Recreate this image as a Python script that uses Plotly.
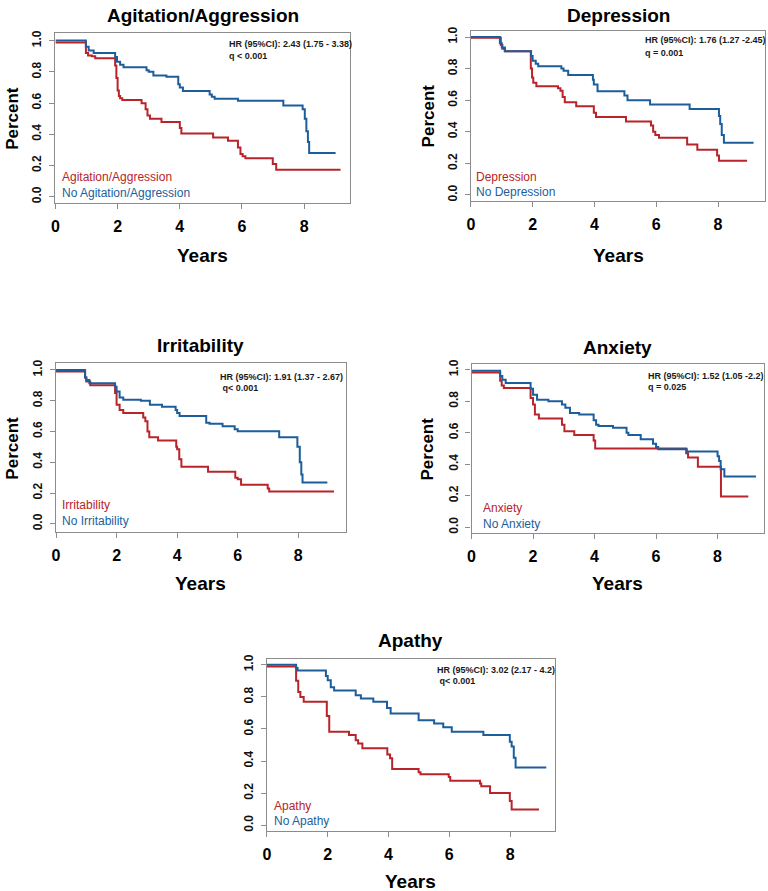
import plotly.graph_objects as go

# ---------------- data ----------------
titles = ["Agitation/Aggression", "Depression", "Irritability", "Anxiety", "Apathy"]
hr_text = ["HR (95%CI): 2.43 (1.75 - 3.38)", "HR (95%CI): 1.76 (1.27 -2.45)",
           "HR (95%CI): 1.91 (1.37 - 2.67)", "HR (95%CI): 1.52 (1.05 -2.2)",
           "HR (95%CI): 3.02 (2.17 - 4.2)"]
q_text = ["q < 0.001", "q = 0.001", " q< 0.001", "q = 0.025", " q< 0.001"]
x_ticks = [0, 2, 4, 6, 8]
y_ticks = [0.0, 0.2, 0.4, 0.6, 0.8, 1.0]
y_tick_labels = ["0.0", "0.2", "0.4", "0.6", "0.8", "1.0"]

agit_x = [0, 0.98, 1.05, 1.17, 1.28, 1.92, 1.96, 2.0, 2.04, 2.08, 2.15, 2.77, 2.9, 2.96, 3.04, 3.41, 4.0, 4.05, 5.07, 5.55, 5.87, 5.95, 6.02, 6.11, 6.99, 7.1, 9.17]
agit_y = [0.988, 0.92, 0.905, 0.90, 0.887, 0.84, 0.76, 0.68, 0.645, 0.63, 0.619, 0.598, 0.56, 0.52, 0.50, 0.478, 0.44, 0.405, 0.38, 0.358, 0.316, 0.274, 0.26, 0.246, 0.21, 0.172, 0.172]
noagit_x = [0, 0.98, 1.07, 1.23, 1.92, 1.98, 2.08, 2.19, 2.93, 3.0, 3.15, 3.57, 3.95, 4.0, 4.1, 4.96, 5.03, 5.12, 5.87, 7.33, 7.95, 8.02, 8.07, 8.12, 8.16, 9.01]
noagit_y = [1.0, 0.96, 0.937, 0.92, 0.895, 0.865, 0.846, 0.83, 0.81, 0.80, 0.776, 0.768, 0.72, 0.70, 0.677, 0.655, 0.64, 0.628, 0.615, 0.585, 0.56, 0.50, 0.42, 0.35, 0.28, 0.28]

dep_x = [0, 0.97, 1.02, 1.1, 1.94, 1.98, 2.02, 2.12, 2.82, 2.9, 2.97, 3.04, 3.41, 3.98, 4.05, 5.02, 5.83, 5.9, 5.97, 6.09, 7.0, 7.33, 7.97, 8.03, 8.94]
dep_y = [0.996, 0.95, 0.925, 0.91, 0.80, 0.744, 0.71, 0.688, 0.675, 0.66, 0.62, 0.587, 0.562, 0.52, 0.493, 0.465, 0.44, 0.40, 0.38, 0.363, 0.32, 0.287, 0.25, 0.216, 0.216]
nodep_x = [0, 0.94, 1.0, 1.1, 1.95, 2.0, 2.1, 2.18, 2.93, 3.0, 3.15, 3.95, 3.98, 4.1, 4.97, 5.07, 5.8, 7.08, 8.03, 8.07, 8.12, 8.19, 9.15]
nodep_y = [1.0, 0.96, 0.933, 0.91, 0.88, 0.85, 0.83, 0.815, 0.80, 0.786, 0.76, 0.73, 0.70, 0.656, 0.63, 0.60, 0.572, 0.545, 0.50, 0.45, 0.38, 0.33, 0.33]

irr_x = [0, 0.96, 1.0, 1.13, 1.95, 2.0, 2.1, 2.22, 2.88, 2.95, 3.02, 3.08, 3.37, 3.97, 4.0, 4.07, 4.14, 5.02, 5.92, 6.0, 6.11, 6.99, 7.04, 9.18]
irr_y = [0.99, 0.95, 0.925, 0.90, 0.85, 0.774, 0.74, 0.72, 0.69, 0.667, 0.60, 0.563, 0.542, 0.50, 0.484, 0.42, 0.37, 0.338, 0.30, 0.29, 0.254, 0.23, 0.21, 0.21]
noirr_x = [0, 0.96, 1.0, 1.1, 1.95, 2.0, 2.1, 2.22, 2.8, 3.1, 3.5, 3.95, 4.0, 4.08, 4.96, 5.07, 5.5, 5.9, 6.0, 7.37, 7.97, 8.05, 8.1, 8.14, 8.96]
noirr_y = [1.0, 0.95, 0.935, 0.914, 0.89, 0.86, 0.82, 0.806, 0.80, 0.774, 0.76, 0.74, 0.72, 0.70, 0.656, 0.65, 0.634, 0.615, 0.602, 0.563, 0.50, 0.40, 0.32, 0.269, 0.269]

anx_x = [0, 0.93, 0.98, 1.05, 1.92, 2.0, 2.06, 2.19, 2.94, 3.02, 3.34, 3.97, 4.02, 6.98, 7.04, 7.36, 8.11, 9.0]
anx_y = [0.983, 0.93, 0.90, 0.884, 0.82, 0.779, 0.716, 0.69, 0.65, 0.61, 0.585, 0.55, 0.499, 0.47, 0.442, 0.383, 0.194, 0.194]
noanx_x = [0, 0.93, 1.0, 1.11, 1.92, 2.0, 2.13, 2.5, 2.94, 3.05, 3.2, 3.5, 3.97, 4.05, 4.13, 4.6, 5.04, 5.1, 5.5, 5.9, 6.0, 6.07, 7.0, 8.0, 8.05, 8.1, 8.22, 9.25]
noanx_y = [0.994, 0.96, 0.937, 0.916, 0.88, 0.842, 0.81, 0.80, 0.78, 0.758, 0.726, 0.716, 0.68, 0.65, 0.642, 0.632, 0.60, 0.585, 0.558, 0.53, 0.51, 0.495, 0.48, 0.45, 0.42, 0.368, 0.322, 0.322]

apa_x = [0, 0.96, 1.03, 1.1, 1.21, 1.97, 2.05, 2.7, 2.92, 3.0, 3.14, 3.96, 4.05, 4.12, 4.99, 5.05, 5.98, 6.03, 7.01, 7.05, 7.34, 7.99, 8.05, 8.95]
apa_y = [0.99, 0.90, 0.83, 0.80, 0.769, 0.68, 0.583, 0.562, 0.53, 0.51, 0.48, 0.44, 0.417, 0.351, 0.33, 0.318, 0.30, 0.277, 0.26, 0.242, 0.20, 0.15, 0.097, 0.097]
noapa_x = [0, 0.96, 1.01, 1.94, 2.0, 2.1, 2.21, 2.92, 3.09, 3.5, 3.95, 4.07, 4.99, 5.5, 5.8, 6.08, 7.12, 7.99, 8.05, 8.12, 8.18, 9.19]
noapa_y = [1.0, 0.98, 0.965, 0.93, 0.903, 0.86, 0.84, 0.81, 0.79, 0.769, 0.73, 0.696, 0.655, 0.634, 0.61, 0.583, 0.562, 0.52, 0.49, 0.42, 0.36, 0.36]

series = [
    ((agit_x, agit_y), (noagit_x, noagit_y)),
    ((dep_x, dep_y), (nodep_x, nodep_y)),
    ((irr_x, irr_y), (noirr_x, noirr_y)),
    ((anx_x, anx_y), (noanx_x, noanx_y)),
    ((apa_x, apa_y), (noapa_x, noapa_y)),
]

# ---------------- layout (pixel geometry) ----------------
W, H = 768, 891
RED = "#B8242A"
BLUE = "#1C5E9C"
BOX = "#8c8c8c"
SANS = "Liberation Sans, Arial, sans-serif"

# left, right, top, bottom in pixels
boxes = [
    (51.7, 347.7, 28.3, 199.0),
    (469.3, 765.3, 25.7, 197.0),
    (52.3, 343.3, 360.7, 530.7),
    (470.0, 764.3, 361.7, 531.7),
    (264.3, 553.7, 658.3, 831.7),
]
xranges = [9.47, 9.53, 9.56, 9.52, 9.47]
yranges = [(-0.038, 1.048), (-0.036, 1.041), (-0.054, 1.043), (-0.038, 1.035), (-0.037, 1.037)]
title_y = [11, 11, 343, 345, 640]
years_y = [252, 252, 582, 582, 882]
percent_x = [9, 427, 9, 426, None]
hr_pos = [(5.51, 0.98, 0.903), (5.56, 0.979, 0.90), (5.35, 0.957, 0.882), (5.67, 0.962, 0.888), (5.54, 0.969, 0.897)]
leg_pos = [(0.14, 0.125, 0.023), (0.086, 0.111, 0.017), (0.14, 0.123, 0.02), (0.30, 0.12, 0.017), (0.16, 0.118, 0.029)]
legend_names = [("Agitation/Aggression", "No Agitation/Aggression"), ("Depression", "No Depression"),
                ("Irritability", "No Irritability"), ("Anxiety", "No Anxiety"), ("Apathy", "No Apathy")]


def px(x):
    return x / W


def py(y):
    return 1 - y / H


fig = go.Figure()
annotations = []
for i in range(5):
    n = "" if i == 0 else str(i + 1)
    xa, ya = "x" + n, "y" + n
    (rx, ry), (bx, by) = series[i]
    fig.add_trace(go.Scatter(x=rx, y=ry, mode="lines", line=dict(color=RED, width=2, shape="hv"),
                             xaxis=xa, yaxis=ya, showlegend=False, name=legend_names[i][0]))
    fig.add_trace(go.Scatter(x=bx, y=by, mode="lines", line=dict(color=BLUE, width=2, shape="hv"),
                             xaxis=xa, yaxis=ya, showlegend=False, name=legend_names[i][1]))
    L, R, T, B = boxes[i]
    fig.layout["xaxis" + n] = dict(
        domain=[px(L), px(R)], range=[0, xranges[i]], anchor=ya,
        tickvals=x_ticks, ticks="outside", ticklen=5, tickcolor=BOX, tickwidth=1,
        showline=True, mirror=True, linecolor=BOX, linewidth=1.3,
        showgrid=False, zeroline=False, ticklabelstandoff=4,
        tickfont=dict(family=SANS, size=16, color="black", weight="bold"))
    fig.layout["yaxis" + n] = dict(
        domain=[py(B), py(T)], range=list(yranges[i]), anchor=xa,
        tickvals=y_ticks, ticktext=y_tick_labels, tickangle=-90,
        ticks="outside", ticklen=5, tickcolor=BOX, tickwidth=1,
        showline=True, mirror=True, linecolor=BOX, linewidth=1.3,
        showgrid=False, zeroline=False, ticklabelstandoff=3,
        tickfont=dict(family=SANS, size=12, color="#111", weight="bold"))
    cx = (L + R) / 2
    annotations.append(dict(text=titles[i], x=px(cx), y=py(title_y[i]), xref="paper", yref="paper",
                            showarrow=False, xanchor="center", yanchor="middle",
                            font=dict(family=SANS, size=19, color="black", weight="bold")))
    annotations.append(dict(text="Years", x=px(cx), y=py(years_y[i]), xref="paper", yref="paper",
                            showarrow=False, xanchor="center", yanchor="middle",
                            font=dict(family=SANS, size=19, color="black", weight="bold")))
    if percent_x[i] is not None:
        annotations.append(dict(text="Percent", x=px(percent_x[i]), y=py((T + B) / 2), xref="paper", yref="paper",
                                showarrow=False, xanchor="center", yanchor="middle", textangle=-90,
                                font=dict(family=SANS, size=17, color="black", weight="bold")))
    hx, hy, qy = hr_pos[i]
    annotations.append(dict(text=hr_text[i], x=hx, y=hy, xref=xa, yref=ya, showarrow=False,
                            xanchor="left", yanchor="middle",
                            font=dict(family=SANS, size=9, color="#1a1a1a", weight="bold")))
    annotations.append(dict(text=q_text[i], x=hx, y=qy, xref=xa, yref=ya, showarrow=False,
                            xanchor="left", yanchor="middle",
                            font=dict(family=SANS, size=9, color="#1a1a1a", weight="bold")))
    lx, l1, l2 = leg_pos[i]
    annotations.append(dict(text=legend_names[i][0], x=lx, y=l1, xref=xa, yref=ya, showarrow=False,
                            xanchor="left", yanchor="middle", font=dict(family=SANS, size=12, color=RED)))
    annotations.append(dict(text=legend_names[i][1], x=lx, y=l2, xref=xa, yref=ya, showarrow=False,
                            xanchor="left", yanchor="middle", font=dict(family=SANS, size=12, color=BLUE)))

fig.update_layout(width=W, height=H, margin=dict(l=0, r=0, t=0, b=0),
                  paper_bgcolor="white", plot_bgcolor="white", annotations=annotations,
                  showlegend=False)
fig.write_html("out.html", config={"displayModeBar": False},
               post_script="document.body.style.margin='0';document.body.style.padding='0';"
                           "document.body.style.overflow='hidden';")
